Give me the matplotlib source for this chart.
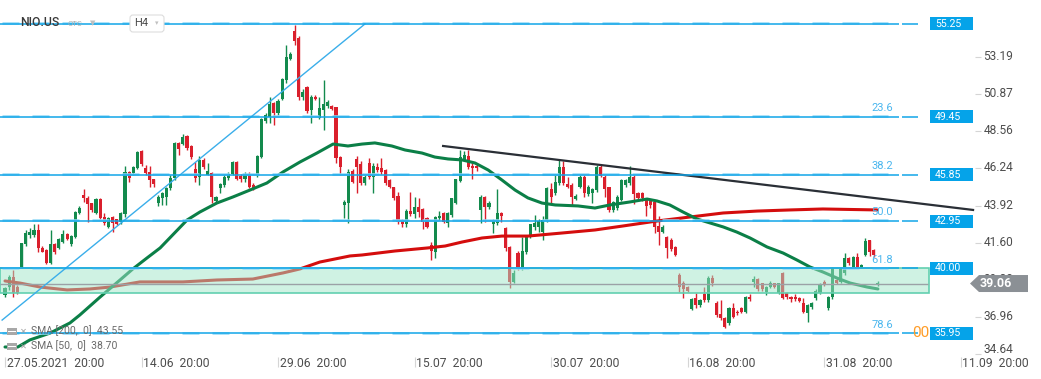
import matplotlib
matplotlib.use("Agg")
import matplotlib.pyplot as plt
from matplotlib.patches import Rectangle, Polygon, FancyBboxPatch
from matplotlib.transforms import IdentityTransform, ScaledTranslation
import numpy as np

plt.rcParams['font.family'] = ['Roboto', 'DejaVu Sans']

# ---------------- data (H4 candles, NIO.US) ----------------
opens = [38.34, 38.86, 39.49, 38.86, 40.10, 41.52, 42.09, 42.09, 42.40, 41.26,
         41.15, 40.36, 41.53, 41.26, 41.67, 42.13, 41.53, 41.94, 43.44, 44.58,
         44.42, 44.06, 43.48, 44.31, 43.23, 42.61, 43.19, 43.06, 42.92, 43.38,
         46.00, 45.93, 46.25, 47.33, 46.29, 46.04, 45.56, 44.10, 44.38, 44.48,
         45.00, 45.62, 47.81, 47.76, 48.26, 47.64, 46.18, 45.69, 46.77, 45.83,
         45.93, 44.23, 45.00, 45.21, 45.62, 45.89, 46.62, 45.77, 45.56, 45.83,
         45.21, 45.83, 46.93, 49.20, 49.47, 50.30, 49.72, 50.59, 51.76, 53.07,
         54.81, 54.36, 50.72, 51.34, 49.89, 50.72, 49.37, 49.89, 50.13, 50.13,
         50.05, 46.93, 43.96, 44.10, 46.10, 46.81, 46.52, 45.35, 46.60, 45.73,
         46.35, 46.25, 46.14, 45.52, 45.06, 44.52, 43.02, 42.77, 43.58, 43.40,
         43.81, 43.69, 43.13, 41.46, 41.05, 43.13, 43.44, 42.86, 43.33, 44.10,
         45.48, 46.77, 47.01, 46.39, 46.39, 43.65, 44.44, 43.81, 42.77, 42.86,
         43.44, 42.50, 41.32, 39.17, 40.95, 40.01, 41.05, 41.94, 42.61, 42.61,
         42.30, 43.02, 44.94, 44.69, 45.31, 46.31, 45.27, 45.21, 44.35, 45.06,
         45.69, 44.64, 44.73, 44.89, 46.31, 45.73, 45.06, 43.65, 43.75, 44.27,
         45.21, 45.31, 45.73, 44.69, 44.69, 44.37, 44.27, 44.17, 42.65, 42.30,
         41.98, 41.77, 41.36, 39.59, 39.07, 38.82, 37.45, 38.14, 37.72, 38.41,
         38.03, 39.38, 37.86, 37.16, 36.89, 36.58, 37.51, 37.30, 37.51, 37.30,
         38.24, 39.17, 39.32, 39.07, 38.55, 38.86, 39.07, 38.45, 39.74, 38.45,
         38.24, 38.24, 38.14, 37.82, 37.24, 37.61, 38.14, 38.49, 39.17, 37.51,
         38.24, 39.28, 39.17, 39.74, 40.63, 40.11, 40.74, 40.11, 40.84, 41.77,
         41.15, 39.00]
highs = [38.86, 39.59, 39.90, 38.96, 41.60, 42.40, 42.50, 42.77, 42.77, 41.40,
         41.20, 42.40, 41.60, 41.90, 42.40, 42.20, 42.10, 43.60, 43.90, 44.94,
         44.50, 44.10, 44.40, 44.40, 43.44, 43.20, 43.30, 43.10, 43.50, 46.40,
         46.10, 46.40, 47.30, 47.40, 46.46, 46.40, 45.60, 44.60, 44.80, 45.10,
         45.80, 47.90, 47.90, 48.40, 48.30, 47.70, 46.66, 47.02, 46.90, 46.56,
         46.00, 44.50, 45.30, 45.90, 46.00, 46.70, 46.70, 45.90, 46.04, 46.00,
         45.30, 47.10, 49.40, 49.70, 50.72, 50.40, 50.60, 51.90, 53.94, 53.52,
         55.19, 54.50, 51.17, 51.40, 50.80, 50.80, 50.72, 51.76, 50.50, 50.20,
         50.10, 47.00, 44.27, 46.20, 46.20, 47.02, 46.70, 45.80, 46.87, 46.60,
         46.60, 46.87, 46.20, 45.60, 45.10, 44.79, 43.10, 43.70, 44.79, 44.44,
         44.38, 43.80, 43.20, 41.67, 43.30, 43.60, 43.50, 43.50, 44.40, 45.60,
         47.39, 47.35, 47.39, 46.56, 46.50, 44.60, 44.50, 44.20, 43.10, 44.94,
         43.50, 42.60, 41.40, 39.90, 41.10, 41.94, 42.00, 42.80, 43.33, 43.10,
         43.30, 45.10, 45.31, 45.83, 46.81, 46.72, 45.73, 45.30, 44.65, 45.80,
         45.80, 45.20, 45.00, 46.45, 46.45, 45.80, 45.10, 44.20, 44.60, 45.60,
         45.60, 46.39, 45.80, 44.80, 44.80, 44.40, 44.35, 44.30, 43.27, 42.70,
         42.05, 41.90, 41.40, 39.70, 39.20, 38.90, 38.14, 38.45, 38.10, 38.86,
         39.50, 39.59, 37.95, 38.03, 36.95, 37.60, 37.86, 37.40, 37.60, 38.30,
         38.41, 39.53, 39.40, 39.10, 38.90, 39.20, 39.10, 39.10, 39.80, 38.50,
         38.30, 38.40, 38.20, 38.14, 37.80, 37.90, 38.70, 39.10, 39.30, 38.30,
         40.10, 39.40, 40.00, 40.98, 40.70, 40.80, 40.98, 40.30, 41.88, 41.80,
         41.20, 39.20]
lows = [38.20, 38.66, 38.24, 38.40, 40.00, 41.40, 41.90, 41.98, 41.05, 41.00,
        40.30, 40.30, 40.90, 41.20, 41.60, 41.80, 41.40, 41.90, 43.40, 44.17,
        42.92, 43.50, 43.40, 43.10, 42.70, 42.50, 42.29, 42.70, 42.80, 43.20,
        45.40, 45.80, 46.20, 46.40, 45.80, 45.10, 45.10, 43.90, 43.96, 43.96,
        44.90, 45.50, 47.08, 47.70, 47.40, 46.80, 45.41, 45.20, 46.20, 45.80,
        44.10, 44.10, 44.69, 45.10, 45.50, 45.80, 45.50, 45.40, 45.40, 45.00,
        44.90, 45.70, 46.90, 49.05, 49.05, 48.95, 49.60, 50.50, 51.60, 53.00,
        53.94, 50.51, 50.51, 49.70, 49.05, 50.50, 49.30, 48.64, 50.00, 49.90,
        46.56, 45.83, 43.13, 42.82, 45.31, 44.69, 45.20, 45.20, 45.60, 44.69,
        46.00, 45.90, 45.20, 45.00, 44.30, 42.80, 42.60, 42.60, 43.30, 43.13,
        43.19, 42.44, 42.50, 40.53, 40.63, 43.00, 42.81, 42.56, 43.20, 44.00,
        45.40, 46.70, 46.20, 45.56, 46.10, 42.81, 42.92, 43.70, 42.19, 42.70,
        42.92, 41.10, 38.76, 39.10, 39.90, 39.90, 40.90, 41.90, 42.40, 42.30,
        41.77, 42.90, 44.06, 44.60, 45.20, 45.20, 45.00, 43.96, 44.30, 45.00,
        44.48, 44.50, 44.10, 44.80, 45.70, 44.48, 43.54, 43.50, 43.65, 44.20,
        45.10, 45.20, 44.02, 44.20, 44.20, 43.27, 43.80, 42.19, 41.46, 42.20,
        40.63, 41.10, 40.80, 38.55, 38.14, 38.50, 37.40, 37.51, 37.60, 37.90,
        37.90, 38.90, 37.00, 36.80, 36.30, 36.50, 36.90, 37.10, 37.20, 37.20,
        38.00, 38.86, 38.60, 38.60, 38.34, 38.80, 38.80, 38.40, 38.10, 38.10,
        37.93, 38.00, 37.90, 37.20, 36.68, 37.50, 38.03, 38.40, 38.90, 37.40,
        38.10, 39.00, 39.10, 39.60, 40.20, 40.00, 40.00, 40.00, 40.80, 40.78,
        40.70, 38.90]
closes = [38.76, 39.49, 38.45, 38.49, 41.57, 42.19, 42.30, 42.40, 41.26, 41.05,
          40.36, 41.53, 41.05, 41.84, 42.13, 41.84, 42.03, 43.50, 43.79, 44.38,
          44.00, 43.65, 44.31, 43.17, 42.82, 43.17, 42.82, 42.77, 43.44, 46.04,
          45.62, 46.31, 47.24, 46.50, 45.93, 45.52, 45.25, 44.48, 44.69, 45.04,
          45.66, 47.81, 47.43, 48.22, 47.54, 46.93, 45.66, 46.77, 46.35, 46.10,
          44.44, 44.48, 45.25, 45.73, 45.87, 46.62, 45.58, 45.56, 45.83, 45.10,
          44.96, 47.02, 49.30, 49.57, 50.24, 49.72, 50.45, 51.80, 53.17, 53.38,
          54.21, 50.72, 51.03, 49.82, 50.72, 50.57, 49.99, 50.24, 50.36, 49.95,
          46.87, 46.35, 44.17, 46.04, 45.41, 46.35, 45.35, 45.73, 45.68, 46.39,
          46.14, 46.04, 45.35, 45.10, 44.37, 42.92, 42.77, 43.61, 43.40, 43.81,
          43.54, 42.92, 42.61, 41.11, 43.19, 43.27, 42.92, 43.44, 44.37, 45.56,
          46.97, 47.08, 46.31, 46.25, 46.25, 44.48, 43.81, 44.06, 43.02, 43.44,
          43.27, 41.25, 39.17, 39.70, 39.95, 41.11, 41.94, 42.75, 42.81, 42.98,
          43.02, 44.99, 44.48, 45.41, 46.35, 45.31, 45.10, 44.48, 44.52, 45.69,
          44.69, 45.10, 44.94, 46.35, 45.77, 44.98, 43.65, 44.14, 44.48, 45.52,
          45.52, 45.73, 44.64, 44.37, 44.37, 43.90, 43.96, 42.61, 42.30, 42.61,
          41.25, 41.19, 40.84, 38.82, 38.70, 38.61, 38.07, 37.72, 38.03, 38.03,
          39.38, 39.07, 37.09, 36.89, 36.37, 37.51, 36.99, 37.20, 37.30, 38.20,
          38.07, 39.32, 38.70, 38.70, 38.86, 39.11, 38.86, 39.07, 38.14, 38.20,
          38.07, 38.07, 37.99, 37.30, 37.72, 37.86, 38.61, 39.03, 38.97, 38.24,
          40.01, 39.07, 39.95, 40.63, 40.32, 40.74, 40.11, 40.22, 41.73, 41.05,
          40.84, 39.06]

sma50_idx = [0, 3.1, 6.0, 10.9, 15.7, 18.1, 23.0, 27.8, 30.9, 34.3,
             37.5, 44.0, 47.1, 51.2, 55.1, 59.2, 63.3, 67.2, 71.3, 75.4,
             79.3, 82.9, 86.3, 89.4, 93.5, 96.7, 100.8, 103.9, 107.1, 110.5,
             113.6, 116.8, 120.1, 123.3, 126.4, 129.8, 133.0, 138.5, 142.6, 146.2,
             151.1, 155.2, 157.6, 160.7, 163.9, 167.3, 170.4, 173.6, 176.9, 180.1,
             184.2, 188.1, 191.4, 194.6, 197.7, 201.1, 204.3, 208.4, 211.0]
sma50_val = [35.10, 35.10, 35.54, 35.97, 36.60, 37.10, 38.22, 39.28, 39.97, 40.65,
             41.28, 43.02, 43.52, 44.08, 44.46, 44.89, 45.33, 46.02, 46.64, 47.20,
             47.76, 47.64, 47.76, 47.83, 47.64, 47.39, 47.20, 46.95, 46.83, 46.77,
             46.58, 46.14, 45.52, 44.89, 44.40, 44.08, 43.96, 43.90, 43.77, 43.96,
             44.15, 44.33, 44.21, 43.96, 43.52, 43.08, 42.84, 42.59, 42.27, 41.90,
             41.34, 40.96, 40.53, 40.09, 39.78, 39.40, 39.09, 38.84, 38.72]
sma200_idx = [0, 3.6, 8.5, 15.0, 20.5, 25.4, 32.6, 43.0, 51.2, 59.9,
              67.2, 71.3, 76.1, 83.4, 86.3, 94.3, 102.2, 106.4, 110.5, 115.3,
              120.1, 126.4, 134.6, 142.6, 149.4, 157.6, 165.6, 173.6, 181.8, 189.8,
              197.7, 210.8]
sma200_val = [39.22, 39.09, 38.84, 38.66, 38.72, 38.84, 39.16, 39.16, 39.28, 39.34,
              39.72, 39.97, 40.40, 40.78, 40.84, 41.09, 41.28, 41.40, 41.65, 41.90,
              42.02, 42.02, 42.21, 42.40, 42.65, 42.96, 43.21, 43.46, 43.58, 43.65,
              43.71, 43.65]

fib_levels = [55.25, 49.45, 45.85, 42.95, 40.00, 35.95]
fib_labels = ['', '23.6', '38.2', '50.0', '61.8', '78.6']
ytick_values = [53.19, 50.87, 48.56, 46.24, 43.92, 41.60, 39.28, 36.96, 34.64]
xtick_idx = [0, 33, 66, 99, 132, 165, 198, 231]
xtick_labels = ['27.05.2021  20:00', '14.06  20:00', '29.06  20:00', '15.07  20:00',
                '30.07  20:00', '16.08  20:00', '31.08  20:00', '11.09  20:00']
zone_low, zone_high = 38.45, 40.00
last_price = 39.06
trend_idx = [105.9, 234.0]
trend_val = [47.64, 43.65]
diag_idx = [-0.7, 87.0]
diag_val = [36.78, 55.25]
legend_lines = ['SMA [200,  0]  43.55', 'SMA [50,  0]  38.70']

# ---------------- figure ----------------
W, H = 1041, 379
fig = plt.figure(figsize=(W / 100, H / 100), dpi=100)
fig.patch.set_facecolor('white')
ax = fig.add_axes([0, 22 / H, 975 / W, 357 / H])
ax.set_xlim(-1.21, 234.47)
ax.set_ylim(34.476, 56.747)
for s in ax.spines.values():
    s.set_visible(False)

PX = 4.137  # pixels per candle


def px2i(px):
    return (px - 5) / PX


GREEN = '#138a4d'
RED = '#da1f2c'
o = np.array(opens); h = np.array(highs); l = np.array(lows); c = np.array(closes)
idx = np.arange(len(o))
cols = [GREEN if cc >= oo else RED for oo, cc in zip(o, c)]
ax.vlines(idx, l, h, colors=cols, lw=1.0, zorder=2)
bot = np.minimum(o, c)
hei = np.maximum(np.abs(c - o), 0.07)
ax.bar(idx, hei, bottom=bot, width=0.75, color=cols, linewidth=0, zorder=3)

# moving averages
ax.plot(sma200_idx, sma200_val, color='#d40d0d', lw=2.2, zorder=4,
        solid_capstyle='round', solid_joinstyle='round')
ax.plot(sma50_idx, sma50_val, color='#0b7f47', lw=2.2, zorder=4,
        solid_capstyle='round', solid_joinstyle='round')

# support zone
zone = Rectangle((-1.21, zone_low), px2i(929) + 1.21, zone_high - zone_low,
                 facecolor=(0.63, 0.90, 0.79, 0.5), edgecolor='#62d0b0', lw=1.2, zorder=5)
ax.add_patch(zone)

# current price line
ax.hlines(last_price, -1.21, px2i(928), color='#9ba1a6', lw=1.0, zorder=6)

# fibonacci levels
ax.hlines([v + 0.05 for v in fib_levels], -0.7, px2i(888), color='#93d9f7', lw=1.8,
          linestyles=(0, (6.8, 5.2)), zorder=6)
ax.hlines(fib_levels, -1.21, px2i(899), color='#12a5e8', lw=1.1, zorder=7)
ax.hlines(fib_levels, px2i(902), px2i(918), color='#12a5e8', lw=1.1, zorder=7)
for v, lab in zip(fib_levels, fib_labels):
    if lab:
        ax.text(px2i(893), v + 0.55, lab, ha='right', va='center', color='#4ab6ee',
                fontsize=8, zorder=8)

# trend lines
ax.plot(diag_idx, diag_val, color='#3aaeea', lw=1.0, zorder=6)
ax.plot(trend_idx, trend_val, color='#2a2f36', lw=1.6, zorder=6, clip_on=False)

# axes ticks
ax.yaxis.tick_right()
ax.set_yticks(ytick_values)
ax.set_yticklabels(['%.2f' % v for v in ytick_values])
ax.tick_params(axis='y', length=4, width=0.8, color='#d5d5d5', pad=2,
               labelsize=8.6, labelcolor='#4d4d4d')
for lab in ax.get_yticklabels():
    dy = 6 if lab.get_text() == '34.64' else 2
    lab.set_transform(lab.get_transform() + ScaledTranslation(0, dy / 100, fig.dpi_scale_trans))

ax.set_xticks(xtick_idx)
ax.set_xticklabels(xtick_labels)
ax.tick_params(axis='x', length=7.2, width=0.8, color='#d5d5d5', pad=-7.0,
               labelsize=8.7, labelcolor='#4d4d4d')
for lab in ax.get_xticklabels():
    lab.set_ha('left')
    lab.set_transform(lab.get_transform() + ScaledTranslation(1.5 / 100, 0, fig.dpi_scale_trans))

# ---------------- overlays in pixel space ----------------
fig.canvas.draw()
ID = IdentityTransform()


def ydisp(v):
    return ax.transData.transform((0, v))[1]


for v in fib_levels:
    yd = ydisp(v)
    fig.add_artist(Rectangle((930, yd - 6.5), 43, 13, facecolor='#05a3e9',
                             edgecolor='none', transform=ID))
    fig.text(935, yd, '%.2f' % v, transform=ID, color='white', fontsize=7.6,
             ha='left', va='center')

# orange cut label near 78.6
fig.text(929, ydisp(35.95), '00', transform=ID, color='#ff9c26', fontsize=11,
         ha='right', va='center')

# last price tag
yc = ydisp(last_price)
fig.add_artist(Polygon([(970, yc), (979, yc + 8.5), (1028, yc + 8.5), (1028, yc - 8.5),
                        (979, yc - 8.5)], closed=True, facecolor='#8b9095',
                       edgecolor='none', transform=ID))
fig.text(996, yc, '%.2f' % last_price, transform=ID, color='white', fontsize=9,
         fontweight='bold', ha='center', va='center')

# header
fig.text(20, H - 23, 'NIO.US', transform=ID, color='#3a3a3a', fontsize=8.8,
         fontweight='medium', ha='left', va='center')
fig.text(67, H - 24, 'OTC', transform=ID, color='#b0b0b0', fontsize=5.5,
         ha='left', va='center')
fig.text(90, H - 23, '\u25BC', transform=ID, color='#c0c0c0', fontsize=5,
         ha='left', va='center', family='DejaVu Sans')
fig.add_artist(FancyBboxPatch((130, H - 32), 34, 17, boxstyle='round,pad=0,rounding_size=3',
                              facecolor='white', edgecolor='#dddddd', lw=0.8, transform=ID))
fig.text(134, H - 23.5, 'H4', transform=ID, color='#4a4a4a', fontsize=8,
         ha='left', va='center')
fig.text(155, H - 23.5, '\u25BE', transform=ID, color='#c0c0c0', fontsize=5,
         ha='left', va='center', family='DejaVu Sans')

# indicator legend
for k, txt in enumerate(legend_lines):
    yy = H - (331 + 15 * k)
    fig.add_artist(Rectangle((7, yy - 3.5), 10, 7, facecolor='#a8a8a8',
                             edgecolor='none', transform=ID))
    fig.add_artist(Rectangle((8, yy - 1), 8, 1.2, facecolor='white',
                             edgecolor='none', transform=ID))
    fig.text(20, yy, '\u2715', transform=ID, color='#a0a0a0', fontsize=6,
             ha='left', va='center', family='DejaVu Sans')
    fig.text(31, yy, txt, transform=ID, color='#6a6a6a', fontsize=7.5,
             ha='left', va='center')

fig.savefig('out.png', dpi=100)
